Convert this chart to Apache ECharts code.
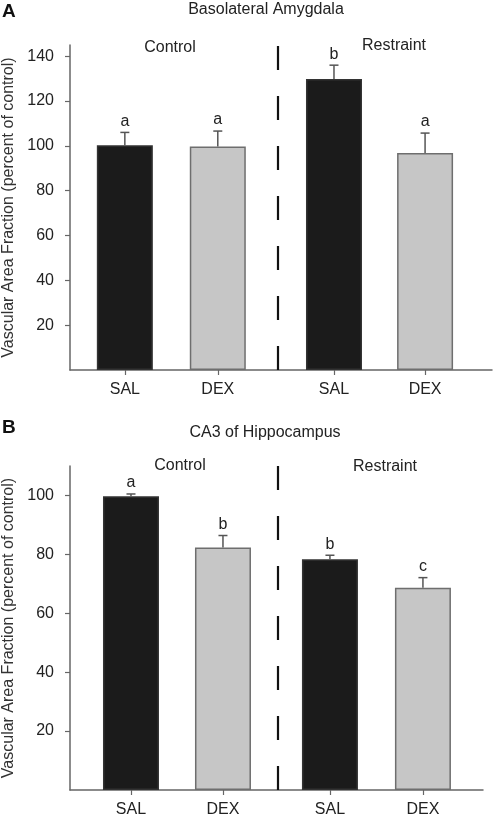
<!DOCTYPE html>
<html>
<head>
<meta charset="utf-8">
<script src="https://cdn.jsdelivr.net/npm/echarts@6/dist/echarts.min.js"></script>
<style>
html,body{margin:0;padding:0;background:#fff;}
#c{width:493px;height:819px;}
</style>
</head>
<body>
<div id="c"></div>
<script>
// ---- data ----
const categories = ['SAL', 'DEX', 'SAL', 'DEX'];
const groups = ['Control', 'Restraint'];
const yTicks = [20, 40, 60, 80, 100, 120, 140];
const yTicksB = [20, 40, 60, 80, 100];

// Panel A: Basolateral Amygdala
const titleA = 'Basolateral Amygdala';
const meanA = [100.3, 99.7, 129.8, 96.8];
const errTopA = [106.0, 106.6, 136.0, 105.7];
const sigA = ['a', 'a', 'b', 'a'];
const xPosA = [0.59, 1.59, 2.84, 3.82];   // slot positions along the x scale
const dividerA = 2.24;

// Panel B: CA3 of Hippocampus
const titleB = 'CA3 of Hippocampus';
const meanB = [99.7, 82.3, 78.3, 68.7];
const errTopB = [100.5, 86.4, 79.7, 72.1];
const sigB = ['a', 'b', 'b', 'c'];
const xPosB = [0.663, 1.663, 2.826, 3.837];
const dividerB = 2.26;

const yName = 'Vascular Area Fraction (percent of control)';

// ---- styles ----
const FONT = '"Liberation Sans", Arial, sans-serif';
const FS = 16;
const fillFor = c => c === 'SAL' ? '#1b1b1b' : '#c6c6c6';
const borderFor = c => c === 'SAL' ? '#333' : '#6e6e6e';
const axisColor = '#666';

function panel(idx, xPos, means, errs, sig, divider, xMax, yMax, yT) {
  const xAxis = {
    type: 'value', gridIndex: idx, min: 0, max: xMax,
    splitLine: {show: false},
    axisLine: {show: true, lineStyle: {color: axisColor, width: 1.5}},
    axisTick: {show: true, length: 5, lineStyle: {color: axisColor, width: 1.2}, customValues: xPos},
    axisLabel: {
      show: true, customValues: xPos, margin: 12,
      fontFamily: FONT, fontSize: FS, color: '#222',
      formatter: v => categories[xPos.indexOf(v)] || ''
    }
  };
  const yAxis = {
    type: 'value', gridIndex: idx, min: 0, max: yMax,
    splitLine: {show: false},
    name: yName, nameLocation: 'middle', nameGap: 53,
    nameTextStyle: {fontFamily: FONT, fontSize: FS, color: '#333'},
    axisLine: {show: true, lineStyle: {color: axisColor, width: 1.5}},
    axisTick: {show: true, length: 5, lineStyle: {color: axisColor, width: 1.2}, customValues: yT},
    axisLabel: {show: true, customValues: yT, margin: 16, fontFamily: FONT, fontSize: FS, color: '#222'}
  };
  const bar = {
    type: 'bar', xAxisIndex: idx, yAxisIndex: idx, barWidth: 56,
    data: means.map((m, i) => ({
      value: [xPos[i], m],
      itemStyle: {color: fillFor(categories[i]), borderColor: borderFor(categories[i]), borderWidth: 1.5}
    })),
    markLine: {
      silent: true, symbol: 'none', label: {show: false},
      lineStyle: {color: '#111', width: 2.2, type: [24, 26]},
      data: [{xAxis: divider}]
    },
    z: 2
  };
  const err = {
    type: 'custom', xAxisIndex: idx, yAxisIndex: idx, z: 3,
    data: means.map((m, i) => [xPos[i], m, errs[i], i]),
    renderItem: (params, api) => {
      const i = api.value(3);
      const p0 = api.coord([api.value(0), api.value(1)]);
      const p1 = api.coord([api.value(0), api.value(2)]);
      const col = '#555';
      return {
        type: 'group',
        children: [
          {type: 'line', shape: {x1: p0[0], y1: p0[1], x2: p1[0], y2: p1[1]}, style: {stroke: col, lineWidth: 1.5}},
          {type: 'line', shape: {x1: p1[0] - 4.5, y1: p1[1], x2: p1[0] + 4.5, y2: p1[1]}, style: {stroke: col, lineWidth: 1.5}},
          {type: 'text', style: {x: p1[0], y: p1[1] - 3, text: sig[i], align: 'center', verticalAlign: 'bottom',
            textAlign: 'center', textVerticalAlign: 'bottom', font: FS + 'px ' + FONT, fill: '#222'}}
        ]
      };
    }
  };
  return {xAxis, yAxis, series: [bar, err]};
}

const pA = panel(0, xPosA, meanA, errTopA, sigA, dividerA, 4.54, 145, yTicks);
const pB = panel(1, xPosB, meanB, errTopB, sigB, dividerB, 4.49, 110, yTicksB);

function txt(x, y, text, size, weight) {
  return {type: 'text', x: x, y: y, style: {text: text, x: 0, y: 0, align: 'center', verticalAlign: 'middle',
    textAlign: 'center', textVerticalAlign: 'middle', font: (weight || 'normal') + ' ' + size + 'px ' + FONT, fill: '#222'}};
}
function txtL(x, y, text, size, weight) {
  return {type: 'text', x: x, y: y, style: {text: text, x: 0, y: 0, align: 'left', verticalAlign: 'middle',
    textAlign: 'left', textVerticalAlign: 'middle', font: (weight || 'normal') + ' ' + size + 'px ' + FONT, fill: '#111'}};
}

const option = {
  animation: false,
  backgroundColor: '#fff',
  grid: [
    {left: 70, top: 45, width: 422, height: 325, outerBoundsMode: 'none', containLabel: false},
    {left: 70, top: 466, width: 413, height: 324, outerBoundsMode: 'none', containLabel: false}
  ],
  xAxis: [pA.xAxis, pB.xAxis],
  yAxis: [pA.yAxis, pB.yAxis],
  series: [...pA.series, ...pB.series],
  graphic: [
    txtL(2, 12, 'A', 19, 'bold'),
    txt(266, 10, titleA, FS),
    txt(170, 48, groups[0], FS),
    txt(394, 46, groups[1], FS),
    txtL(2, 428, 'B', 19, 'bold'),
    txt(265, 433, titleB, FS),
    txt(180, 466, groups[0], FS),
    txt(385, 467, groups[1], FS)
  ]
};

echarts.init(document.getElementById('c'), null, {renderer: 'canvas'}).setOption(option);
</script>
</body>
</html>
